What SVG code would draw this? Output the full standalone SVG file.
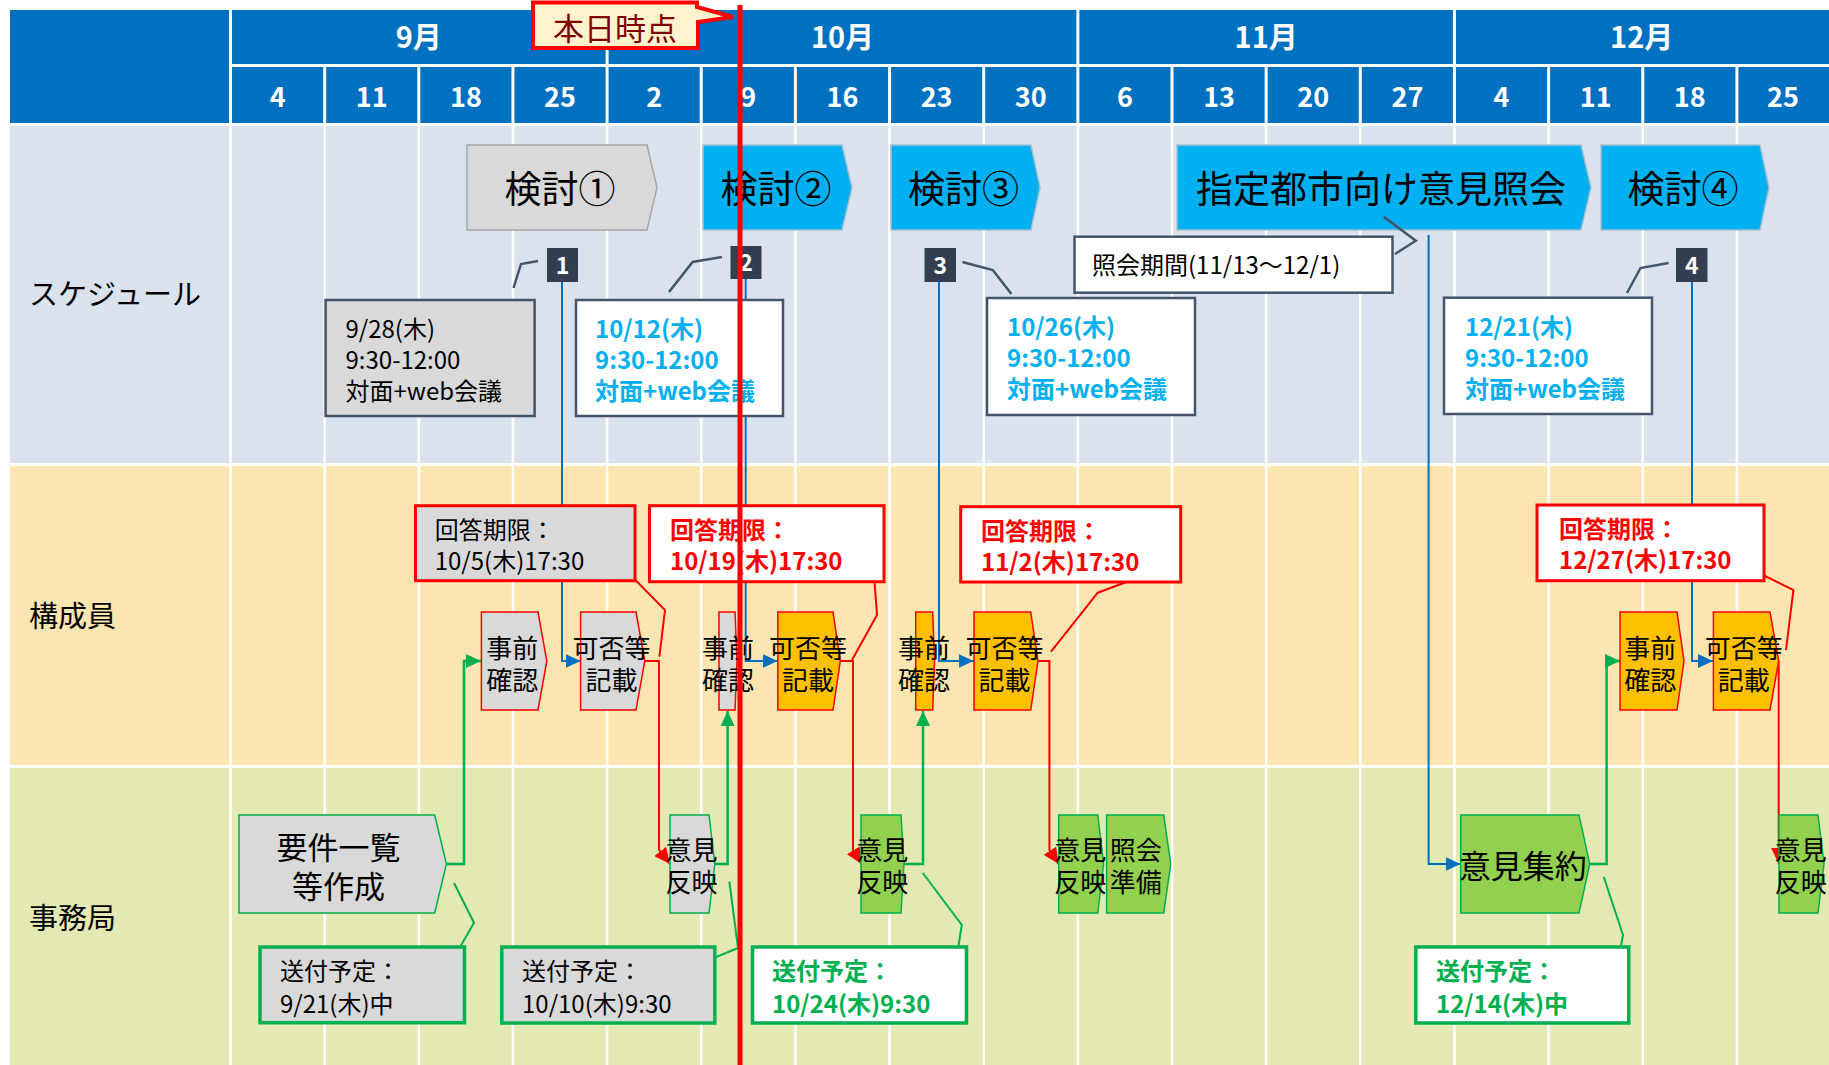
<svg xmlns="http://www.w3.org/2000/svg" width="1829" height="1065" viewBox="0 0 1829 1065">
<style>
text { font-family: "Noto Sans CJK JP", "Noto Sans", sans-serif; }
.hdr { fill: #0070C0; }
.ht { fill: #ffffff; font-weight: bold; text-anchor: middle; }
.mon { font-size: 29px; }
.wk { font-size: 27px; }
.grid { stroke: #ffffff; stroke-width: 3; }
.lane { font-size: 29px; fill: #000; }
.chev-g { fill: #D9D9D9; stroke: #A6A6A6; stroke-width: 1.5; }
.chev-c { fill: #00B0F0; stroke: #A6BFD0; stroke-width: 1.5; }
.chevt { font-size: 37px; fill: #000; text-anchor: middle; }
.badge { fill: #333F50; }
.badget { fill: #fff; font-size: 23px; font-weight: bold; text-anchor: middle; }
.cs-g { fill: #D9D9D9; stroke: #44546A; stroke-width: 2.5; }
.cs-w { fill: #FFFFFF; stroke: #44546A; stroke-width: 2.5; }
.lead-s { fill: none; stroke: #44546A; stroke-width: 2.5; }
.cr-g { fill: #D9D9D9; stroke: #FF0000; stroke-width: 3; }
.cr-w { fill: #FFFFFF; stroke: #FF0000; stroke-width: 3; }
.lead-r { fill: none; stroke: #FF0000; stroke-width: 2; }
.cg-g { fill: #D9D9D9; stroke: #00B050; stroke-width: 3.5; }
.cg-w { fill: #FFFFFF; stroke: #00B050; stroke-width: 3.5; }
.lead-g { fill: none; stroke: #00B050; stroke-width: 2; }
.ct { font-size: 24px; fill: #000; }
.ct-c { font-size: 24px; fill: #00B0F0; font-weight: bold; }
.ct-r { font-size: 24px; fill: #FF0000; font-weight: bold; }
.ct-gr { font-size: 24px; fill: #00B050; font-weight: bold; }
.m-gray { fill: #D9D9D9; stroke: #FF0000; stroke-width: 1.5; }
.m-org { fill: #FFC000; stroke: #FF0000; stroke-width: 1.5; }
.o-gray { fill: #D9D9D9; stroke: #00B050; stroke-width: 1.5; }
.o-grn { fill: #92D050; stroke: #00B050; stroke-width: 1.5; }
.bt { font-size: 26px; fill: #000; text-anchor: middle; }
.c-blue { fill: none; stroke: #0070C0; stroke-width: 2; }
.c-green { fill: none; stroke: #00B050; stroke-width: 2.5; }
.c-red { fill: none; stroke: #FF0000; stroke-width: 2; }
</style>
<defs>
<marker id="ab" markerUnits="userSpaceOnUse" markerWidth="15" markerHeight="14" viewBox="0 0 15 14" refX="15" refY="7" orient="auto"><path d="M0,0 L15,7 L0,14 z" fill="#0070C0"/></marker>
<marker id="ag" markerUnits="userSpaceOnUse" markerWidth="15" markerHeight="14" viewBox="0 0 15 14" refX="15" refY="7" orient="auto"><path d="M0,0 L15,7 L0,14 z" fill="#00B050"/></marker>
<marker id="ar" markerUnits="userSpaceOnUse" markerWidth="16" markerHeight="15" viewBox="0 0 16 15" refX="16" refY="7.5" orient="auto"><path d="M0,0 L16,7.5 L0,15 z" fill="#FF0000"/></marker>
</defs>

<rect x="0" y="0" width="1829" height="1065" fill="#ffffff"/>

<!-- header -->
<g id="header">
<rect class="hdr" x="10" y="10" width="1819" height="113"/>
<line class="grid" x1="230.5" y1="65.5" x2="1829" y2="65.5"/>
<line class="grid" x1="230.5" y1="10" x2="230.5" y2="123"/>
<line class="grid" x1="607.1" y1="10" x2="607.1" y2="123"/>
<line class="grid" x1="1077.85" y1="10" x2="1077.85" y2="123"/>
<line class="grid" x1="1454.45" y1="10" x2="1454.45" y2="123"/>
<g stroke="#fff" stroke-width="3">
<line x1="324.65" y1="65" x2="324.65" y2="123"/>
<line x1="418.8" y1="65" x2="418.8" y2="123"/>
<line x1="512.95" y1="65" x2="512.95" y2="123"/>
<line x1="701.25" y1="65" x2="701.25" y2="123"/>
<line x1="795.4" y1="65" x2="795.4" y2="123"/>
<line x1="889.55" y1="65" x2="889.55" y2="123"/>
<line x1="983.7" y1="65" x2="983.7" y2="123"/>
<line x1="1172" y1="65" x2="1172" y2="123"/>
<line x1="1266.15" y1="65" x2="1266.15" y2="123"/>
<line x1="1360.3" y1="65" x2="1360.3" y2="123"/>
<line x1="1548.6" y1="65" x2="1548.6" y2="123"/>
<line x1="1642.75" y1="65" x2="1642.75" y2="123"/>
<line x1="1736.9" y1="65" x2="1736.9" y2="123"/>
</g>
<text class="ht mon" x="418.8" y="48">9月</text>
<text class="ht mon" x="842.5" y="48">10月</text>
<text class="ht mon" x="1266.15" y="48">11月</text>
<text class="ht mon" x="1641.7" y="48">12月</text>
<text class="ht wk" x="277.6" y="107">4</text>
<text class="ht wk" x="371.7" y="107">11</text>
<text class="ht wk" x="465.9" y="107">18</text>
<text class="ht wk" x="560" y="107">25</text>
<text class="ht wk" x="654.2" y="107">2</text>
<text class="ht wk" x="748.3" y="107">9</text>
<text class="ht wk" x="842.5" y="107">16</text>
<text class="ht wk" x="936.6" y="107">23</text>
<text class="ht wk" x="1030.8" y="107">30</text>
<text class="ht wk" x="1124.9" y="107">6</text>
<text class="ht wk" x="1219.1" y="107">13</text>
<text class="ht wk" x="1313.2" y="107">20</text>
<text class="ht wk" x="1407.4" y="107">27</text>
<text class="ht wk" x="1501.5" y="107">4</text>
<text class="ht wk" x="1595.7" y="107">11</text>
<text class="ht wk" x="1689.8" y="107">18</text>
<text class="ht wk" x="1783" y="107">25</text>
</g>

<!-- lanes -->
<g id="lanes">
<rect x="10" y="126" width="1819" height="337" fill="#DAE3ED"/>
<rect x="10" y="466" width="1819" height="299" fill="#FBE6B1"/>
<rect x="10" y="768" width="1819" height="297" fill="#E4E8B2"/>
<g stroke="#fff" stroke-width="2.5">
<line x1="230.5" y1="126" x2="230.5" y2="1065"/>
<line x1="324.65" y1="126" x2="324.65" y2="1065"/>
<line x1="418.8" y1="126" x2="418.8" y2="1065"/>
<line x1="512.95" y1="126" x2="512.95" y2="1065"/>
<line x1="607.1" y1="126" x2="607.1" y2="1065"/>
<line x1="701.25" y1="126" x2="701.25" y2="1065"/>
<line x1="795.4" y1="126" x2="795.4" y2="1065"/>
<line x1="889.55" y1="126" x2="889.55" y2="1065"/>
<line x1="983.7" y1="126" x2="983.7" y2="1065"/>
<line x1="1077.85" y1="126" x2="1077.85" y2="1065"/>
<line x1="1172" y1="126" x2="1172" y2="1065"/>
<line x1="1266.15" y1="126" x2="1266.15" y2="1065"/>
<line x1="1360.3" y1="126" x2="1360.3" y2="1065"/>
<line x1="1454.45" y1="126" x2="1454.45" y2="1065"/>
<line x1="1548.6" y1="126" x2="1548.6" y2="1065"/>
<line x1="1642.75" y1="126" x2="1642.75" y2="1065"/>
<line x1="1736.9" y1="126" x2="1736.9" y2="1065"/>
</g>
<text class="lane" x="29" y="305">スケジュール</text>
<text class="lane" x="29" y="627">構成員</text>
<text class="lane" x="29" y="929">事務局</text>
</g>

<!-- connectors -->
<g id="connectors">
<path class="c-blue" d="M562,282 V661 H580.6" marker-end="url(#ab)"/>
<path class="c-blue" d="M745.7,279 V661 H777.5" marker-end="url(#ab)"/>
<path class="c-blue" d="M939,282 V661 H973.5" marker-end="url(#ab)"/>
<path class="c-blue" d="M1692,282 V661 H1713" marker-end="url(#ab)"/>
<path class="c-blue" d="M1428.6,235 V864 H1460.5" marker-end="url(#ab)"/>
<path class="c-green" d="M446.4,864 H464 V661 H481" marker-end="url(#ag)"/>
<path class="c-green" d="M714.8,864 H727.6 V711" marker-end="url(#ag)"/>
<path class="c-green" d="M904,864 H923 V711" marker-end="url(#ag)"/>
<path class="c-green" d="M1589.7,864 H1606.6 V661 H1620" marker-end="url(#ag)"/>
<path class="c-red" d="M644.8,661 H659 V850 L670,864" marker-end="url(#ar)"/>
<path class="c-red" d="M840.3,661 H853 V850 L861.5,864" marker-end="url(#ar)"/>
<path class="c-red" d="M1038,661 H1049.4 V850 L1058.7,864" marker-end="url(#ar)"/>
<path class="c-red" d="M1778.7,661 V864" marker-end="url(#ar)"/>
</g>

<!-- schedule chevrons -->
<g id="kento1"><polygon class="chev-g" points="467,145 647,145 657,187.5 647,230 467,230"/><text class="chevt" x="560" y="203">検討①</text></g>
<g id="kento2"><polygon class="chev-c" points="703,145 842,145 852,187.5 842,230 703,230"/><text class="chevt" x="776" y="203">検討②</text></g>
<g id="kento3"><polygon class="chev-c" points="891,145 1031,145 1040,187.5 1031,230 891,230"/><text class="chevt" x="963.5" y="203">検討③</text></g>
<g id="shoukai"><polygon class="chev-c" points="1177,145 1581,145 1591,187.5 1581,230 1177,230"/><text class="chevt" x="1381" y="203">指定都市向け意見照会</text></g>
<g id="kento4"><polygon class="chev-c" points="1601,145 1760,145 1769,187.5 1760,230 1601,230"/><text class="chevt" x="1683" y="203">検討④</text></g>

<!-- badges -->
<g id="badge1"><rect class="badge" x="547" y="248" width="31" height="34"/><text class="badget" x="562.5" y="274">1</text></g>
<g id="badge2"><rect class="badge" x="730.5" y="246" width="31" height="33"/><text class="badget" x="746" y="271">2</text></g>
<g id="badge3"><rect class="badge" x="924.5" y="248" width="31.5" height="34"/><text class="badget" x="940.2" y="274">3</text></g>
<g id="badge4"><rect class="badge" x="1676" y="248" width="31.5" height="34"/><text class="badget" x="1691.7" y="274">4</text></g>

<!-- schedule callouts -->
<g id="callout-0928">
<polyline class="lead-s" points="513.5,288 521,264 538,261"/>
<rect class="cs-g" x="325.6" y="300" width="209" height="116"/>
<text class="ct" x="345.5" y="338"><tspan x="345.5">9/28(木)</tspan><tspan x="345.5" dy="31">9:30-12:00</tspan><tspan x="345.5" dy="31">対面+web会議</tspan></text>
</g>
<g id="callout-1012">
<polyline class="lead-s" points="669,292 692.6,262 722,257"/>
<rect class="cs-w" x="576" y="300" width="207" height="116"/>
<text class="ct-c" x="595" y="338"><tspan x="595">10/12(木)</tspan><tspan x="595" dy="31">9:30-12:00</tspan><tspan x="595" dy="31">対面+web会議</tspan></text>
</g>
<g id="callout-1026">
<polyline class="lead-s" points="962.4,262 992.8,270 1011.4,294"/>
<rect class="cs-w" x="987" y="298" width="208" height="117"/>
<text class="ct-c" x="1007" y="336"><tspan x="1007">10/26(木)</tspan><tspan x="1007" dy="31">9:30-12:00</tspan><tspan x="1007" dy="31">対面+web会議</tspan></text>
</g>
<g id="callout-period">
<polyline class="lead-s" points="1383.7,216.7 1415.8,240.7 1395,254"/>
<rect class="cs-w" x="1074.5" y="236.7" width="318" height="56"/>
<text class="ct" x="1092" y="274">照会期間(11/13～12/1)</text>
</g>
<g id="callout-1221">
<polyline class="lead-s" points="1627,293 1640.5,268 1668.5,263"/>
<rect class="cs-w" x="1444" y="297.7" width="208" height="116.3"/>
<text class="ct-c" x="1465" y="336"><tspan x="1465">12/21(木)</tspan><tspan x="1465" dy="31">9:30-12:00</tspan><tspan x="1465" dy="31">対面+web会議</tspan></text>
</g>

<!-- member boxes -->
<g id="m-jizen1"><polygon class="m-gray" points="481.4,612 538,612 546.8,661 538,710 481.4,710"/><text class="bt" x="512.3" y="658"><tspan x="512.3">事前</tspan><tspan x="512.3" dy="32">確認</tspan></text></g>
<g id="m-kahi1"><polygon class="m-gray" points="580.6,612 636,612 644.8,661 636,710 580.6,710"/><text class="bt" x="611.5" y="658"><tspan x="611.5">可否等</tspan><tspan x="611.5" dy="32">記載</tspan></text></g>
<g id="m-jizen2"><polygon class="m-gray" points="719,612 735,612 737,661 735,710 719,710"/><text class="bt" x="728" y="658"><tspan x="728">事前</tspan><tspan x="728" dy="32">確認</tspan></text></g>
<g id="m-kahi2"><polygon class="m-org" points="777.8,612 833,612 840.3,661 833,710 777.8,710"/><text class="bt" x="808" y="658"><tspan x="808">可否等</tspan><tspan x="808" dy="32">記載</tspan></text></g>
<g id="m-jizen3"><polygon class="m-org" points="915.7,612 932.7,612 934.5,661 932.7,710 915.7,710"/><text class="bt" x="924" y="658"><tspan x="924">事前</tspan><tspan x="924" dy="32">確認</tspan></text></g>
<g id="m-kahi3"><polygon class="m-org" points="974,612 1030.7,612 1038,661 1030.7,710 974,710"/><text class="bt" x="1004.4" y="658"><tspan x="1004.4">可否等</tspan><tspan x="1004.4" dy="32">記載</tspan></text></g>
<g id="m-jizen4"><polygon class="m-org" points="1620,612 1677,612 1684,661 1677,710 1620,710"/><text class="bt" x="1650.3" y="658"><tspan x="1650.3">事前</tspan><tspan x="1650.3" dy="32">確認</tspan></text></g>
<g id="m-kahi4"><polygon class="m-org" points="1713.4,612 1770,612 1778.7,661 1770,710 1713.4,710"/><text class="bt" x="1743.7" y="658"><tspan x="1743.7">可否等</tspan><tspan x="1743.7" dy="32">記載</tspan></text></g>

<!-- member callouts -->
<g id="deadline-1005">
<polyline class="lead-r" points="619.7,564 665,610 659.4,656.7"/>
<rect class="cr-g" x="415.5" y="505.7" width="219.5" height="75"/>
<text class="ct" x="434.7" y="539"><tspan x="434.7">回答期限：</tspan><tspan x="434.7" dy="31">10/5(木)17:30</tspan></text>
</g>
<g id="deadline-1019">
<polyline class="lead-r" points="873.5,568 877,615 852,660"/>
<rect class="cr-w" x="649.5" y="505.7" width="234.5" height="76"/>
<text class="ct-r" x="670" y="539"><tspan x="670">回答期限：</tspan><tspan x="670" dy="31">10/19(木)17:30</tspan></text>
</g>
<g id="deadline-1102">
<polyline class="lead-r" points="1163.7,568 1097.8,592.7 1051,651.7"/>
<rect class="cr-w" x="960.7" y="506.7" width="220" height="75.3"/>
<text class="ct-r" x="981" y="540"><tspan x="981">回答期限：</tspan><tspan x="981" dy="31">11/2(木)17:30</tspan></text>
</g>
<g id="deadline-1227">
<polyline class="lead-r" points="1747,567 1793.4,590 1786,650"/>
<rect class="cr-w" x="1537" y="505" width="227" height="75.7"/>
<text class="ct-r" x="1559" y="538"><tspan x="1559">回答期限：</tspan><tspan x="1559" dy="31">12/27(木)17:30</tspan></text>
</g>

<!-- office boxes -->
<g id="o-youken"><polygon class="o-gray" points="239,815 434.7,815 446.4,864 434.7,913 239,913"/><text class="bt" style="font-size:31px" x="338.4" y="859"><tspan x="338.4">要件一覧</tspan><tspan x="338.4" dy="39">等作成</tspan></text></g>
<g id="o-hanei1"><polygon class="o-gray" points="670,815 709,815 714.8,864 709,913 670,913"/><text class="bt" x="691.5" y="859.5"><tspan x="691.5">意見</tspan><tspan x="691.5" dy="32.5">反映</tspan></text></g>
<g id="o-hanei2"><polygon class="o-grn" points="861,815 901,815 904,864 901,913 861,913"/><text class="bt" x="882.2" y="859.5"><tspan x="882.2">意見</tspan><tspan x="882.2" dy="32.5">反映</tspan></text></g>
<g id="o-hanei3"><polygon class="o-grn" points="1058.7,815 1097.8,815 1103.6,864 1097.8,913 1058.7,913"/><text class="bt" x="1080.3" y="859.5"><tspan x="1080.3">意見</tspan><tspan x="1080.3" dy="32.5">反映</tspan></text></g>
<g id="o-junbi"><polygon class="o-grn" points="1106.6,815 1163.7,815 1170.7,864 1163.7,913 1106.6,913"/><text class="bt" x="1135.7" y="859.5"><tspan x="1135.7">照会</tspan><tspan x="1135.7" dy="32.5">準備</tspan></text></g>
<g id="o-shuyaku"><polygon class="o-grn" points="1460.7,815 1579,815 1589.7,864 1579,913 1460.7,913"/><text class="bt" style="font-size:32px" x="1522.8" y="878">意見集約</text></g>
<g id="o-hanei4"><polygon class="o-grn" points="1779,815 1818,815 1824,864 1818,913 1779,913"/><text class="bt" x="1800.8" y="859.5"><tspan x="1800.8">意見</tspan><tspan x="1800.8" dy="32.5">反映</tspan></text></g>

<!-- office callouts -->
<g id="send-0921">
<polyline class="lead-g" points="454,883 474,922.7 455,956"/>
<rect class="cg-g" x="260" y="947" width="204.5" height="75.7"/>
<text class="ct" x="280" y="980"><tspan x="280">送付予定：</tspan><tspan x="280" dy="33">9/21(木)中</tspan></text>
</g>
<g id="send-1010">
<polyline class="lead-g" points="729.4,881.7 738,948 705,961.7"/>
<rect class="cg-g" x="501.8" y="947" width="213" height="76"/>
<text class="ct" x="522" y="980"><tspan x="522">送付予定：</tspan><tspan x="522" dy="33">10/10(木)9:30</tspan></text>
</g>
<g id="send-1024">
<polyline class="lead-g" points="922.8,873 961.8,925 956,961.7"/>
<rect class="cg-w" x="752.5" y="947" width="214" height="76"/>
<text class="ct-gr" x="772" y="980"><tspan x="772">送付予定：</tspan><tspan x="772" dy="33">10/24(木)9:30</tspan></text>
</g>
<g id="send-1214">
<polyline class="lead-g" points="1603.7,876.7 1623,935 1618,961.7"/>
<rect class="cg-w" x="1415.8" y="947" width="213" height="76"/>
<text class="ct-gr" x="1436" y="980"><tspan x="1436">送付予定：</tspan><tspan x="1436" dy="33">12/14(木)中</tspan></text>
</g>

<!-- today marker -->
<g id="today">
<line x1="740" y1="5" x2="740" y2="1065" stroke="#FF0000" stroke-width="5"/>
<polygon points="533,2.5 697,2.5 697,7 733,17 698,22 698,48 533,48" fill="#FFF2CC" stroke="#FF0000" stroke-width="4" stroke-linejoin="miter"/>
<text x="615" y="40" font-size="31" fill="#800000" text-anchor="middle">本日時点</text>
</g>
</svg>
